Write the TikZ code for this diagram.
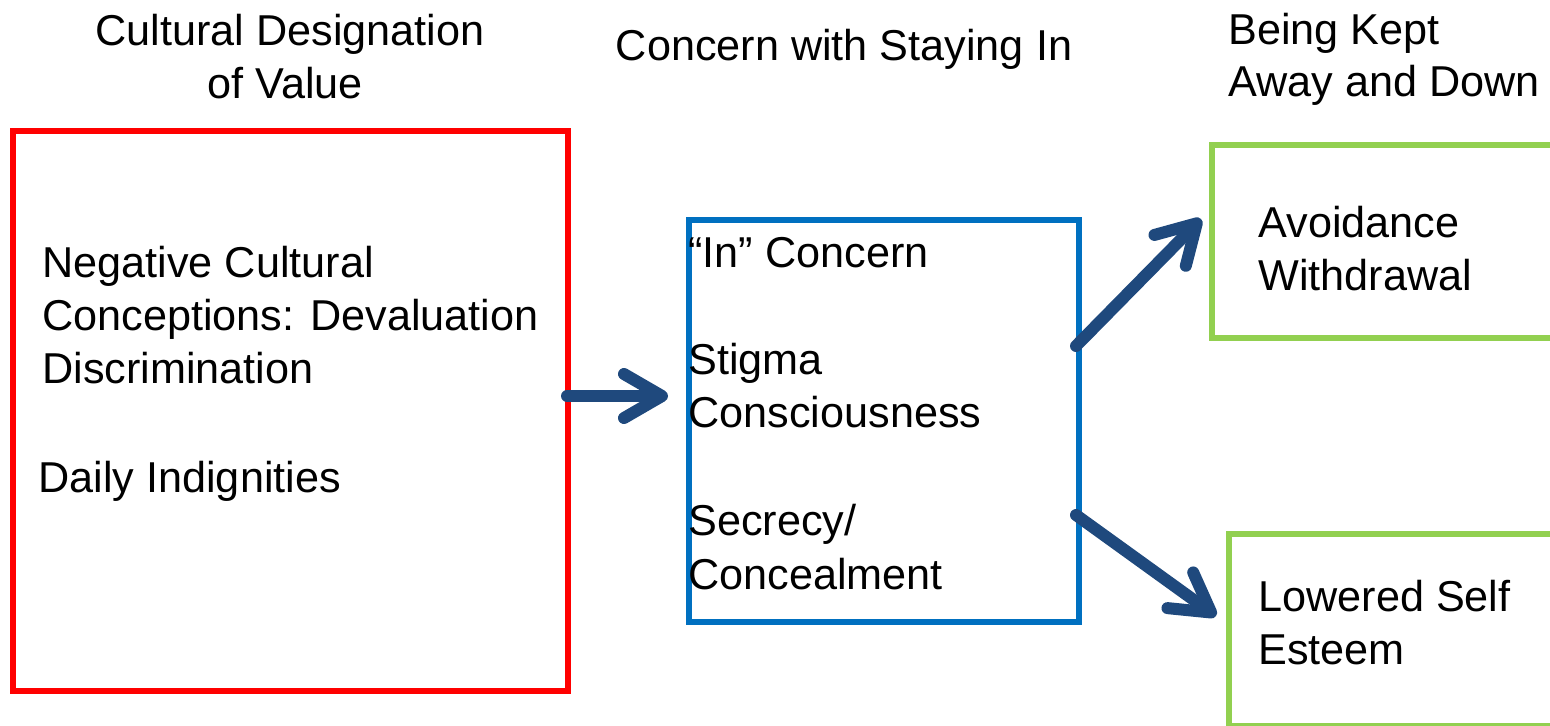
\documentclass[tikz,border=0pt]{standalone}
\usepackage{fontspec}
\setmainfont{Liberation Sans}
\usetikzlibrary{arrows.meta}
\definecolor{boxred}{HTML}{FF0000}
\definecolor{boxblue}{HTML}{0070C0}
\definecolor{boxgreen}{HTML}{92D050}
\definecolor{arrowblue}{HTML}{1F497D}
\tikzset{
  txt/.style={anchor=base west, inner sep=0pt, font=\fontsize{21.6pt}{26.5pt}\selectfont},
  ctxt/.style={anchor=base, inner sep=0pt, font=\fontsize{21.6pt}{26.5pt}\selectfont},
  panel/.style={draw, line width=3.2pt, anchor=north west, inner sep=0pt},
  link/.style={draw=arrowblue, line width=6pt, line cap=round,
    -{Straight Barb[length=19pt, width=22pt, round]}},
}
\begin{document}
\begin{tikzpicture}[x=0.5pt, y=-0.5pt]
\useasboundingbox (0,0) rectangle (1550,725);
\clip (0,0) rectangle (1550,725);
% boxes
\node[panel, draw=boxred, minimum width=277.5pt, minimum height=280pt] (red) at (10,128) {};
\node[panel, draw=boxblue, minimum width=195pt, minimum height=201pt] (blue) at (686,217) {};
\node[panel, draw=boxgreen, minimum width=180pt, minimum height=96.5pt] (gtop) at (1209,142) {};
\node[panel, draw=boxgreen, minimum width=170pt, minimum height=96pt] (gbot) at (1226,531) {};
% headings
\node[ctxt] (h1a) at (290,45) {Cultural Designation};
\node[ctxt] (h1b) at (285,98) {of Value};
\node[ctxt] (h2) at (844,60) {Concern with Staying In};
\node[txt] (h3a) at (1228,44) {Being Kept};
\node[txt] (h3b) at (1228,96) {Away and Down};
% red box text
\node[txt] (r1) at (42,277) {Negative Cultural};
\node[txt] (r2) at (42,330) {Conceptions: Devaluation};
\node[txt] (r3) at (42,383) {Discrimination};
\node[txt] (r4) at (38,492) {Daily Indignities};
% blue box text
\node[txt] (b1) at (688,267) {“In” Concern};
\node[txt] (b2) at (688,374) {Stigma};
\node[txt] (b3) at (688,427) {Consciousness};
\node[txt] (b4) at (688,535) {Secrecy/};
\node[txt] (b5) at (688,589) {Concealment};
% green text
\node[txt] (g1) at (1258,237) {Avoidance};
\node[txt] (g2) at (1258,290) {Withdrawal};
\node[txt] (g3) at (1258,611) {Lowered Self};
\node[txt] (g4) at (1258,664) {Esteem};
% arrow endpoints
\coordinate (a1s) at (567,396);
\coordinate (a1e) at (668,396);
\coordinate (a2s) at (1076,346);
\coordinate (a2e) at (1201,219);
\coordinate (a3s) at (1076,515);
\coordinate (a3e) at (1216,616);
\draw[link] (a1s) -- (a1e);
\draw[link] (a2s) -- (a2e);
\draw[link] (a3s) -- (a3e);
\end{tikzpicture}
\end{document}
